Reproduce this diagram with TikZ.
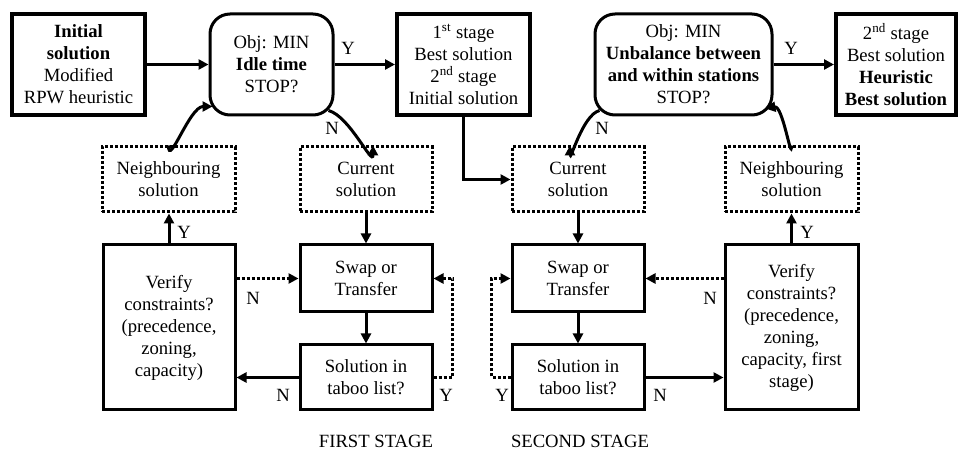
\documentclass[tikz,border=0pt]{standalone}
\usepackage{fontspec}
\setmainfont{Liberation Serif}
\usetikzlibrary{arrows.meta}
\tikzset{every picture/.style={line width=0.75pt}}

\begin{document}
\begin{tikzpicture}[x=0.75pt,y=0.75pt,yscale=-1,xscale=1,
  box/.style={draw, line width=2.25pt, inner sep=0pt, align=center, font=\fontsize{14}{16.5}\selectfont},
  thickbox/.style={box, line width=3pt},
  stopbox/.style={box, rounded corners=15pt},
  dotbox/.style={box, line width=2.25pt, dash pattern=on 2.25pt off 1.5pt},
  flow/.style={line width=2.25pt, -{Triangle[length=7.5pt,width=7.5pt]}},
  dotflow/.style={flow, dash pattern=on 2.25pt off 1.5pt},
  lbl/.style={font=\fontsize{14}{16.5}\selectfont}]
\useasboundingbox (0,0) rectangle (958,452);

% Top row
\node[thickbox, minimum width=99.75pt, minimum height=75.75pt] (init) at (78.5,64.5) {\textbf{Initial}\\\textbf{solution}\\Modified\\RPW heuristic};
\node[stopbox, minimum width=92.25pt, minimum height=75.75pt] (obj1) at (271.5,64.5) {Obj: MIN\\\textbf{Idle time}\\STOP?};
\node[thickbox, minimum width=99.75pt, minimum height=75.75pt] (best1) at (463.5,64.5) {1\textsuperscript{st} stage\\Best solution\\2\textsuperscript{nd} stage\\Initial solution};
\node[stopbox, minimum width=132.75pt, minimum height=75.75pt] (obj2) at (683.5,64.5) {Obj: MIN\\\textbf{Unbalance between}\\\textbf{and within stations}\\STOP?};
\node[thickbox, minimum width=90pt, minimum height=75.75pt] (best2) at (896,64.5) {2\textsuperscript{nd} stage\\Best solution\\\textbf{Heuristic}\\\textbf{Best solution}};

% Dotted row
\node[dotbox, minimum width=99.75pt, minimum height=48.75pt] (nb1) at (168.5,179.5) {Neighbouring\\solution};
\node[dotbox, minimum width=99pt, minimum height=48.75pt] (cur1) at (366,179.5) {Current\\solution};
\node[dotbox, minimum width=99pt, minimum height=48.75pt] (cur2) at (578,179.5) {Current\\solution};
\node[dotbox, minimum width=99.75pt, minimum height=48.75pt] (nb2) at (791.5,179.5) {Neighbouring\\solution};

% Lower boxes
\node[box, minimum width=99pt, minimum height=123.75pt] (ver1) at (169,327.5) {Verify\\constraints?\\(precedence,\\zoning,\\capacity)};
\node[box, minimum width=99pt, minimum height=50.25pt] (swap1) at (366,278.5) {Swap or\\Transfer};
\node[box, minimum width=99pt, minimum height=48.75pt] (tab1) at (366,377.5) {Solution in\\taboo list?};
\node[box, minimum width=99pt, minimum height=50.25pt] (swap2) at (578,278.5) {Swap or\\Transfer};
\node[box, minimum width=99pt, minimum height=48.75pt] (tab2) at (578,377.5) {Solution in\\taboo list?};
\node[box, minimum width=99.75pt, minimum height=123.75pt] (ver2) at (791.5,327.5) {Verify\\constraints?\\(precedence,\\zoning,\\capacity, first\\stage)};

%Straight Lines
\draw[flow] (init) -- (obj1);
\draw[flow] (obj1) -- (best1);
\draw[flow] (obj2) -- (best2);
\draw[flow] (best1.south) |- (cur2.west);
%Curve Lines
\draw[flow] (nb1.north) to[out=90,in=180] ([shift={(4,-10)}]obj1.south west);
\draw[flow] ([shift={(-6,-6)}]obj1.south east) to[out=15,in=90] ([xshift=5.25pt]cur1.north);
\draw[flow] ([shift={(6,-6)}]obj2.south west) to[out=165,in=90] ([xshift=-6pt]cur2.north);
\draw[flow] (nb2.north) to[out=90,in=-10] ([shift={(-8,-8)}]obj2.south east);

%Straight Lines
\draw[flow] (ver1.north) -- (ver1.north |- nb1.south);
\draw[flow] (cur1) -- (swap1);
\draw[flow] (swap1) -- (tab1);
\draw[flow] (tab1) -- (tab1 -| ver1.east);
\draw[dotflow] (swap1 -| ver1.east) -- (swap1);
\draw[dotflow] (tab1.east) -- ++(19,0) |- (swap1.east);

\draw[flow] (cur2) -- (swap2);
\draw[flow] (swap2) -- (tab2);
\draw[flow] (ver2) -- (nb2);
\draw[flow] (tab2) -- (tab2 -| ver2.west);
\draw[dotflow] (swap2 -| ver2.west) -- (swap2);
\draw[dotflow] (tab2.west) -- ++(-19,0) |- (swap2.west);

% Text Node
\node[lbl] (ya) at (348,48) {Y};
\node[lbl] (na) at (332,128) {N};
\node[lbl] (nb) at (602,128) {N};
\node[lbl] (yb) at (791,48) {Y};
\node[lbl] (yc) at (184,232) {Y};
\node[lbl] (nc) at (253,298) {N};
\node[lbl] (nd) at (283,395) {N};
\node[lbl] (yd) at (446,395) {Y};
\node[lbl] (ye) at (502,395) {Y};
\node[lbl] (ne) at (660,395) {N};
\node[lbl] (nf) at (710,298) {N};
\node[lbl] (yf) at (807,232) {Y};
% Text Node
\node[lbl] (st1) at (376,441) {FIRST STAGE};
\node[lbl] (st2) at (580,441) {SECOND STAGE};
\end{tikzpicture}
\end{document}
